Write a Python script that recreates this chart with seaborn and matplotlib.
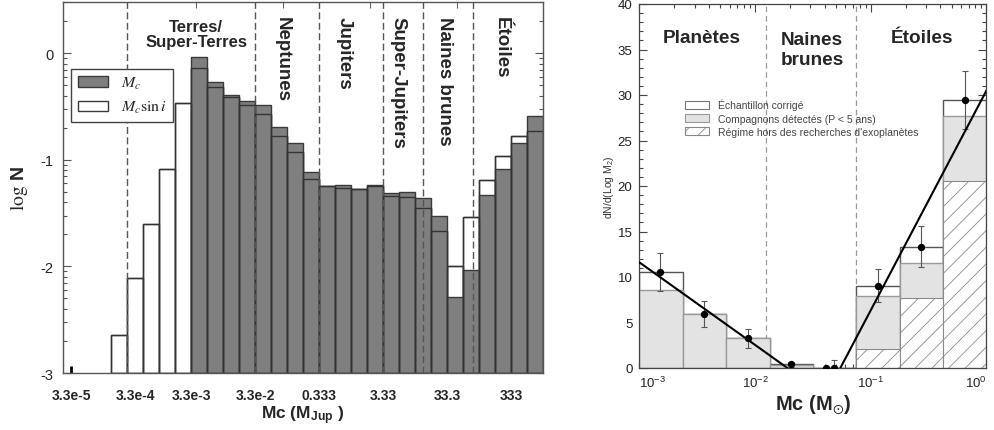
import numpy as np
import pandas as pd
import matplotlib
matplotlib.use("Agg")
import matplotlib.pyplot as plt
import matplotlib.transforms as mtransforms
from matplotlib.patches import Patch
from matplotlib.ticker import FixedLocator
import seaborn as sns

# ---------------- data: left panel (x = log10 of mass in Earth masses, 0.25 dex bins) -------------
bin_width_left = 0.25
mc_first_edge = 0.0
mc_logN = [-0.04, -0.27, -0.39, -0.45, -0.49, -0.69, -0.84, -1.11, -1.25, -1.24, -1.27,
           -1.24, -1.31, -1.30, -1.36, -1.53, -2.29, -2.03, -1.33, -1.09, -0.84, -0.59]
sini_first_edge = -1.25
sini_logN = [-2.64, -2.11, -1.60, -1.09, -0.47,
             -0.14, -0.32, -0.41, -0.49, -0.57, -0.78, -0.93, -1.18, -1.25, -1.26, -1.27,
             -1.25, -1.34, -1.35, -1.45, -1.67, -2.00, -1.54, -1.19, -0.96, -0.78, -0.73]
left_tick_pos = [-1.875, -0.875, 0, 1, 2, 3, 4, 5]
left_tick_labels = ["3.3e-5", "3.3e-4", "3.3e-3", "3.3e-2", "0.333", "3.33", "33.3", "333"]
left_top_ticks = [0.08, 1.44, 2.80, 4.16]
left_bounds = [-1.0, 1.0, 2.0, 3.0, 3.62, 4.40]
left_regions = ["Neptunes", "Jupiters", "Super-Jupiters", "Naines brunes", "Étoiles"]
left_region_x = [1.43, 2.40, 3.23, 3.96, 4.85]
BASE = -3.0

# ---------------- data: right panel (masses in solar masses) -------------
right_edges_log = [-3.0, -2.625, -2.25, -1.875, -1.5, -1.125, -0.75, -0.375, 0.0]
corrected = [10.55, 5.96, 3.31, 0.40, 0.0, 9.05, 13.35, 29.45]
detected = [8.58, 5.96, 3.31, 0.30, 0.0, 7.93, 11.53, 27.70]
outside = [0.0, 0.0, 0.0, 0.0, 0.0, 2.04, 7.64, 20.50]
pts_mass = [0.0015, 0.0036, 0.0087, 0.0204, 0.0407, 0.048, 0.115, 0.27, 0.65]
pts_val = [10.58, 5.96, 3.31, 0.40, 0.0, 0.0, 9.05, 13.35, 29.45]
pts_lo = [8.50, 4.55, 2.25, 0.15, 0.0, 0.0, 7.24, 11.09, 26.30]
pts_hi = [12.65, 7.35, 4.33, 0.65, 0.0, 0.90, 10.87, 15.56, 32.66]
fit_left_mass = [0.001, 0.019]
fit_left_val = [11.6, 0.0]
fit_right_mass = [0.0545, 1.0]
fit_right_val = [0.0, 30.5]
right_bounds_mass = [0.0123, 0.075]
right_regions = ["Planètes", "Naines\nbrunes", "Étoiles"]
right_region_mass = [0.00345, 0.031, 0.275]
right_region_y = [35.8, 33.4, 35.8]
legend_labels_right = ["Échantillon corrigé", "Compagnons détectés (P < 5 ans)",
                       "Régime hors des recherches d'exoplanètes"]

# ---------------- style -------------
sns.set_style("white")
plt.rcParams.update({
    "font.family": ["Liberation Sans", "DejaVu Sans"],
    "axes.unicode_minus": False,
    "mathtext.fontset": "custom",
    "mathtext.rm": "Liberation Sans",
    "mathtext.it": "Liberation Sans:italic",
    "mathtext.bf": "Liberation Sans:bold",
    "mathtext.fallback": "stix",
    "hatch.linewidth": 0.6,
})

fig = plt.figure(figsize=(9.95, 4.31), dpi=100)
axL = fig.add_axes([63 / 995, 1 - 374 / 431, 480 / 995, 371 / 431])
axR = fig.add_axes([639.5 / 995, 1 - 369 / 431, 347 / 995, 364 / 431])

# ================= LEFT PANEL =================
mc_edges = [float(v) for v in mc_first_edge + bin_width_left * np.arange(len(mc_logN) + 1)]
sini_edges = [float(v) for v in sini_first_edge + bin_width_left * np.arange(len(sini_logN) + 1)]
df_mc = pd.DataFrame({"x": (np.array(mc_edges[:-1]) + np.array(mc_edges[1:])) / 2,
                      "h": np.array(mc_logN) - BASE})
df_si = pd.DataFrame({"x": (np.array(sini_edges[:-1]) + np.array(sini_edges[1:])) / 2,
                      "h": np.array(sini_logN) - BASE})

sns.histplot(data=df_si, x="x", weights="h", bins=sini_edges, element="bars", fill=True,
             facecolor="white", edgecolor="#3a3a3a", linewidth=1.0, alpha=1, ax=axL, zorder=1)
sns.histplot(data=df_mc, x="x", weights="h", bins=mc_edges, element="bars", fill=True,
             facecolor="#7f7f7f", edgecolor="#3a3a3a", linewidth=1.0, alpha=1, ax=axL, zorder=1.5)
sns.histplot(data=df_si, x="x", weights="h", bins=sini_edges, element="bars", fill=False,
             color="#333333", linewidth=1.0, alpha=1, ax=axL, zorder=2)

for b in left_bounds:
    axL.axvline(b, color="#555555", lw=1.0, dashes=(5, 2.5), zorder=2.2)

blendL = mtransforms.blended_transform_factory(axL.transData, axL.transAxes)
for name, xp in zip(left_regions, left_region_x):
    axL.text(xp, 0.963, name, transform=blendL, rotation=270, ha="center", va="top",
             fontsize=13.5, fontweight="bold", zorder=6)
axL.text(0.08, 0.955, "Terres/\nSuper-Terres", transform=blendL, ha="center", va="top",
         multialignment="center", fontsize=12, fontweight="bold", linespacing=1.0, zorder=6)

axL.set_xlim(-2.0, 5.5)
axL.set_ylim(0, 3.48)
axL.set_xticks(left_tick_pos)
axL.set_xticklabels(left_tick_labels, fontweight="bold", fontsize=10)
axL.tick_params(axis="x", which="major", direction="in", length=5, width=2, color="black",
                pad=11, bottom=True, top=False)
yt = [0, 1, 2, 3]
axL.set_yticks(yt)
axL.set_yticklabels([f"{v + BASE:g}" for v in yt], fontsize=10.5)
minors = [d + np.log10(k) for d in range(0, 4) for k in range(2, 10) if d + np.log10(k) < 3.48]
axL.yaxis.set_minor_locator(FixedLocator(minors))
axL.tick_params(axis="y", which="major", direction="in", length=6, width=0.8, color="#555555",
                left=True, right=True, pad=7)
axL.tick_params(axis="y", which="minor", direction="in", length=3, width=0.8, color="#555555",
                left=True, right=True)
sec = axL.secondary_xaxis("top")
sec.set_xticks(left_top_ticks)
sec.set_xticklabels([])
sec.tick_params(direction="in", length=4, width=0.8, color="#666666")
for sp in axL.spines.values():
    sp.set_color("#555555")
    sp.set_linewidth(1.0)
sec.spines["top"].set_visible(False)

axL.set_xlabel(r"Mc (M$_{\mathbf{Jup}}$ )", fontsize=12.5, fontweight="bold")
axL.xaxis.set_label_coords(0.5, -0.083)
axL.set_ylabel(r"$\mathrm{log}$ N", fontsize=14, fontweight="bold", math_fontfamily="stix")
axL.yaxis.set_label_coords(-0.069, 0.5)

handlesL = [Patch(facecolor="#7f7f7f", edgecolor="#3a3a3a"), Patch(facecolor="white", edgecolor="#3a3a3a")]
legL = axL.legend(handlesL, [r"$M_c$", r"$M_c\sin i$"], loc="upper left", bbox_to_anchor=(0.017, 0.82),
                  fontsize=11.5, frameon=True, fancybox=False, framealpha=1, edgecolor="#444444",
                  handlelength=1.9, handleheight=0.6, borderpad=0.4, labelspacing=0.5,
                  handletextpad=0.8, borderaxespad=0)
legL.get_frame().set_linewidth(1.0)
for t in legL.get_texts():
    t.set_math_fontfamily("stix")

# ================= RIGHT PANEL =================
edgesR = [float(v) for v in right_edges_log]
centersR = (np.array(edgesR[:-1]) + np.array(edgesR[1:])) / 2
dfR = pd.DataFrame({"x": centersR, "corr": corrected, "det": detected, "out": outside})
sns.histplot(data=dfR, x="x", weights="corr", bins=edgesR, element="bars", fill=True,
             facecolor="white", edgecolor="#555555", linewidth=1.0, alpha=1, ax=axR, zorder=1)
sns.histplot(data=dfR, x="x", weights="det", bins=edgesR, element="bars", fill=True,
             facecolor="#e3e3e3", edgecolor="#9a9a9a", linewidth=1.0, alpha=1, ax=axR, zorder=1.5)
sns.histplot(data=dfR, x="x", weights="out", bins=edgesR, element="bars", fill=True,
             facecolor="white", edgecolor="#8a8a8a", hatch="//", linewidth=0.8, alpha=1, ax=axR, zorder=2)

for b in right_bounds_mass:
    axR.axvline(np.log10(b), color="#9a9a9a", lw=0.9, dashes=(4.5, 3), zorder=0.5)

lo = np.array(pts_val) - np.array(pts_lo)
hi = np.array(pts_hi) - np.array(pts_val)
axR.errorbar(np.log10(pts_mass), pts_val, yerr=[lo, hi], fmt="none", ecolor="#555555",
             elinewidth=0.8, capsize=2.5, capthick=0.8, zorder=5)
sns.scatterplot(x=np.log10(pts_mass), y=pts_val, color="black", s=28, edgecolor="black",
                linewidth=0, ax=axR, zorder=6)
sns.lineplot(x=np.log10(fit_left_mass), y=fit_left_val, color="black", lw=1.5, ax=axR,
             estimator=None, zorder=7)
sns.lineplot(x=np.log10(fit_right_mass), y=fit_right_val, color="black", lw=1.5, ax=axR,
             estimator=None, zorder=7)

for name, m, yv in zip(right_regions, right_region_mass, right_region_y):
    axR.text(np.log10(m), yv, name, ha="center", va="baseline", fontsize=13.7,
             fontweight="bold", linespacing=1.2, multialignment="center")

handlesR = [Patch(facecolor="white", edgecolor="#777777", linewidth=0.8),
            Patch(facecolor="#e3e3e3", edgecolor="#999999", linewidth=0.8),
            Patch(facecolor="white", edgecolor="#888888", hatch="//", linewidth=0.8)]
legR = axR.legend(handlesR, legend_labels_right, loc="upper left", bbox_to_anchor=(0.125, 0.745),
                  fontsize=7.5, frameon=False, handlelength=2.3, handleheight=0.8,
                  labelspacing=0.3, handletextpad=0.85, borderpad=0.2, borderaxespad=0)
for t in legR.get_texts():
    t.set_color("#444444")

axR.set_xlim(-3, 0)
axR.set_ylim(0, 40)
axR.set_xticks([-3, -2, -1, 0])
axR.set_xticklabels([r"$10^{-3}$", r"$10^{-2}$", r"$10^{-1}$", r"$10^{0}$"], fontsize=9.5)
xticks_major = axR.xaxis.get_major_ticks()
xticks_major[0].label1.set_horizontalalignment("left")
xticks_major[-1].label1.set_horizontalalignment("right")
axR.xaxis.set_minor_locator(FixedLocator([d + np.log10(k) for d in (-3, -2, -1) for k in range(2, 10)]))
axR.set_yticks(range(0, 41, 5))
axR.set_yticklabels([str(v) for v in range(0, 41, 5)], fontsize=9.5)
axR.yaxis.set_minor_locator(FixedLocator(list(range(0, 41))))
axR.tick_params(which="major", direction="in", length=6, width=0.8, color="#444444",
                top=True, right=True, bottom=True, left=True, pad=5, labelcolor="#222222")
axR.tick_params(which="minor", direction="in", length=3, width=0.8, color="#444444",
                top=True, right=True, bottom=True, left=True)
for sp in axR.spines.values():
    sp.set_color("#444444")
    sp.set_linewidth(0.9)

axR.set_xlabel(r"Mc (M$_{\odot}$)", fontsize=14.5, fontweight="bold")
axR.xaxis.set_label_coords(0.5, -0.065)
axR.set_ylabel(r"dN/d(Log M$_2$)", fontsize=7.5, color="#333333")
axR.yaxis.set_label_coords(-0.068, 0.5)

fig.savefig("out.png", dpi=100)
